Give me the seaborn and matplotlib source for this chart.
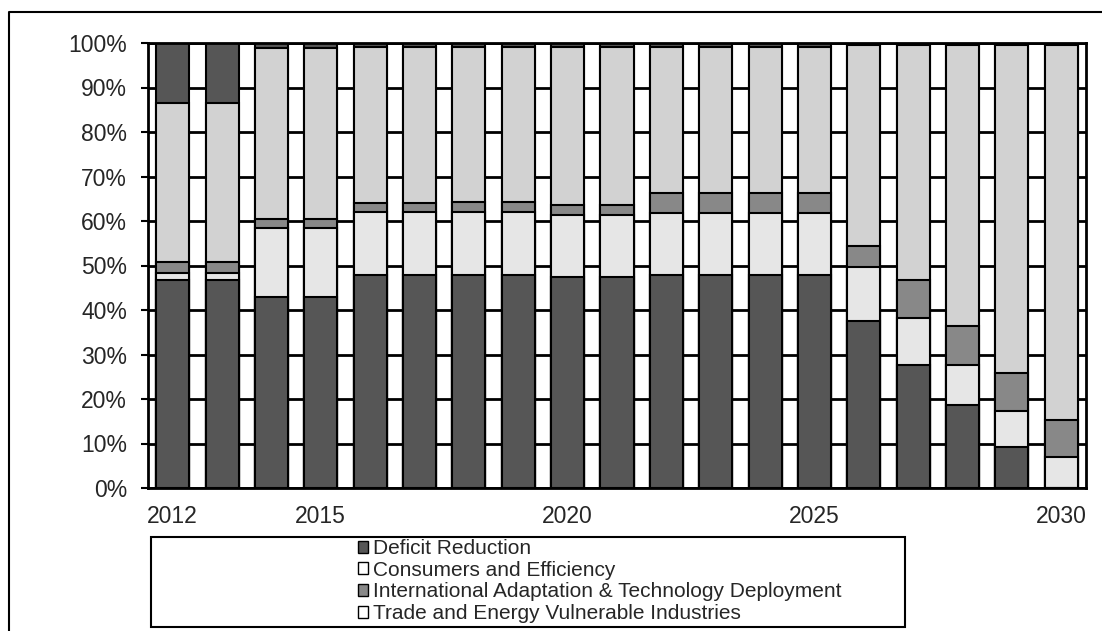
import pandas as pd
import numpy as np
import matplotlib
matplotlib.use("Agg")
import matplotlib.pyplot as plt
from matplotlib.patches import Patch, Rectangle
from matplotlib.lines import Line2D
import seaborn as sns

# values (percent of total, bottom segment first)
years = [str(y) for y in range(2012, 2031)]
deficit = [46.7, 46.7, 42.9, 42.9, 47.9, 47.9, 47.9, 47.9, 47.5, 47.5,
           47.9, 47.9, 47.9, 47.9, 37.6, 27.6, 18.7, 9.3, 0.0]
consumers = [1.6, 1.6, 15.5, 15.5, 14.1, 14.1, 14.1, 14.1, 13.8, 13.8,
             13.9, 13.9, 13.9, 13.9, 12.1, 10.6, 8.9, 7.9, 7.0]
intl = [2.5, 2.5, 2.0, 2.0, 2.0, 2.0, 2.3, 2.3, 2.3, 2.3,
        4.5, 4.5, 4.5, 4.5, 4.7, 8.5, 8.7, 8.7, 8.3]
trade = [35.7, 35.7, 38.4, 38.4, 35.2, 35.2, 34.9, 34.9, 35.6, 35.6,
         32.9, 32.9, 32.9, 32.9, 45.1, 52.8, 63.2, 73.6, 84.2]
other = [13.5, 13.5, 1.2, 1.2, 0.8, 0.8, 0.8, 0.8, 0.8, 0.8,
         0.8, 0.8, 0.8, 0.8, 0.5, 0.5, 0.5, 0.5, 0.5]

labels = ["Deficit Reduction", "Consumers and Efficiency",
          "International Adaptation & Technology Deployment",
          "Trade and Energy Vulnerable Industries"]
shown_years = ["2012", "2015", "2020", "2025", "2030"]

df = pd.DataFrame({"year": years, "deficit": deficit, "consumers": consumers,
                   "intl": intl, "trade": trade, "other": other})

sns.set_style("white")
plt.rcParams['font.family'] = ['Liberation Sans', 'DejaVu Sans']

fig = plt.figure(figsize=(11.02, 6.31), dpi=100)
ax = fig.add_axes([148 / 1102, 1 - 488 / 631, (1086 - 148) / 1102, (488 - 43) / 631])

# stacked bars: draw cumulative totals from the top layer down
layers = ["deficit", "consumers", "intl", "trade", "other"]
colors = ["#565656", "#e6e6e6", "#888888", "#d2d2d2", "#565656"]
cum = df[layers].cumsum(axis=1)
for col, c in zip(layers[::-1], colors[::-1]):
    sns.barplot(x=df["year"], y=cum[col], color=c, saturation=1, width=0.67,
                edgecolor="black", linewidth=1.5, ax=ax, zorder=2)

ax.set_xlim(-0.5, len(years) - 0.5)
ax.set_ylim(0, 100)
ax.set_yticks(np.arange(0, 101, 10))
ax.set_yticklabels([f"{v}%" for v in range(0, 101, 10)], fontsize=16.5)
ax.yaxis.grid(True, color="black", linewidth=2, zorder=0)
ax.set_axisbelow(True)

ax.set_xticks([years.index(y) for y in shown_years])
ax.set_xticklabels(shown_years, fontsize=16.5)
ax.set_xticks(np.arange(-0.5, len(years), 1), minor=True)
ax.tick_params(axis="x", which="major", length=0, pad=12)
ax.tick_params(axis="x", which="minor", length=5, width=1.5, direction="out", color="black")
ax.tick_params(axis="y", length=5, width=1.5, direction="out", color="black", pad=10, left=True)
ax.set_xlabel("")
ax.set_ylabel("")
for s in ax.spines.values():
    s.set_color("black")
    s.set_linewidth(2)

# legend box below the plot
fig.add_artist(Rectangle((151 / 1102, 1 - 627 / 631), (905 - 151) / 1102, 90 / 631,
                         transform=fig.transFigure, fill=False, edgecolor="black", linewidth=1.5))
handles = [Patch(facecolor=c, edgecolor="black", linewidth=1)
           for c in ["#565656", "#ffffff", "#888888", "#ffffff"]]
fig.legend(handles, labels, loc="upper left", bbox_to_anchor=(358 / 1102, 1 - 539 / 631),
           frameon=False, fontsize=15, handlelength=0.5, handleheight=0.5,
           handletextpad=0.2, labelspacing=0.13, borderpad=0, borderaxespad=0)

# outer chart border (partly cropped in the scan)
fig.add_artist(Line2D([9 / 1102, 9 / 1102, 1], [0, 1 - 12 / 631, 1 - 12 / 631],
                      transform=fig.transFigure, color="black", linewidth=1.5))

fig.savefig("out.png", dpi=100)
